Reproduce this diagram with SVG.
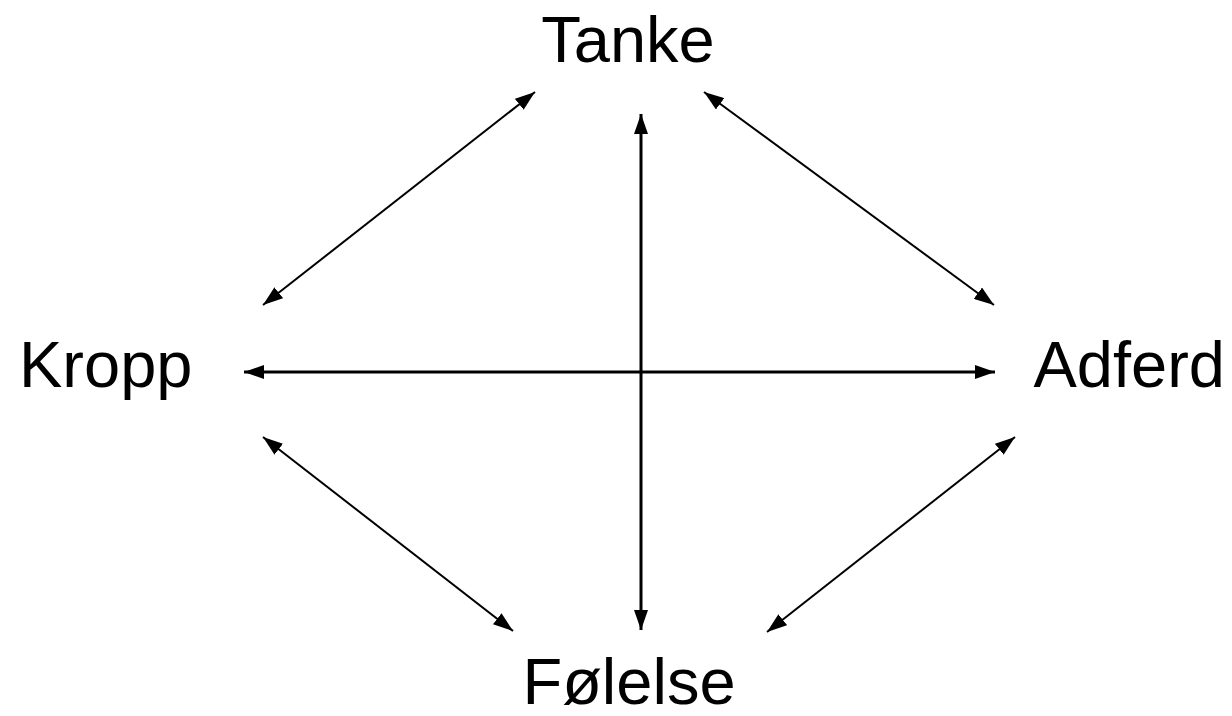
<svg xmlns="http://www.w3.org/2000/svg" width="1232" height="716" viewBox="0 0 1232 716">
<style>
.lbl{font-family:"Liberation Sans",Arial,sans-serif;font-size:65px;fill:#000}
.c{stroke:#000;fill:none}
.d{stroke-width:2}
.s{stroke-width:3}
</style>
<defs>
<marker id="ah" viewBox="0 0 20 14" refX="20" refY="7" markerWidth="20" markerHeight="14" markerUnits="userSpaceOnUse" orient="auto-start-reverse">
<path d="M0,0 L20,7 L0,14 Z" fill="#000"/>
</marker>
</defs>
<rect width="1232" height="716" fill="#fff"/>
<g id="tanke"><text class="lbl" x="628" y="62" text-anchor="middle">Tanke</text></g>
<g id="kropp"><text class="lbl" x="19" y="387">Kropp</text></g>
<g id="adferd"><text class="lbl" x="1225" y="387" text-anchor="end">Adferd</text></g>
<g id="folelse"><text class="lbl" x="629" y="704" text-anchor="middle">Følelse</text></g>
<g id="connectors" class="c">
<line class="s" x1="641" y1="114" x2="641" y2="630" marker-start="url(#ah)" marker-end="url(#ah)"/>
<line class="s" x1="244" y1="372" x2="995" y2="372" marker-start="url(#ah)" marker-end="url(#ah)"/>
<line class="d" x1="535" y1="92" x2="263" y2="305" marker-start="url(#ah)" marker-end="url(#ah)"/>
<line class="d" x1="704" y1="92" x2="994" y2="305" marker-start="url(#ah)" marker-end="url(#ah)"/>
<line class="d" x1="263" y1="437" x2="513" y2="631" marker-start="url(#ah)" marker-end="url(#ah)"/>
<line class="d" x1="1015" y1="437" x2="767" y2="632" marker-start="url(#ah)" marker-end="url(#ah)"/>
</g>
</svg>
